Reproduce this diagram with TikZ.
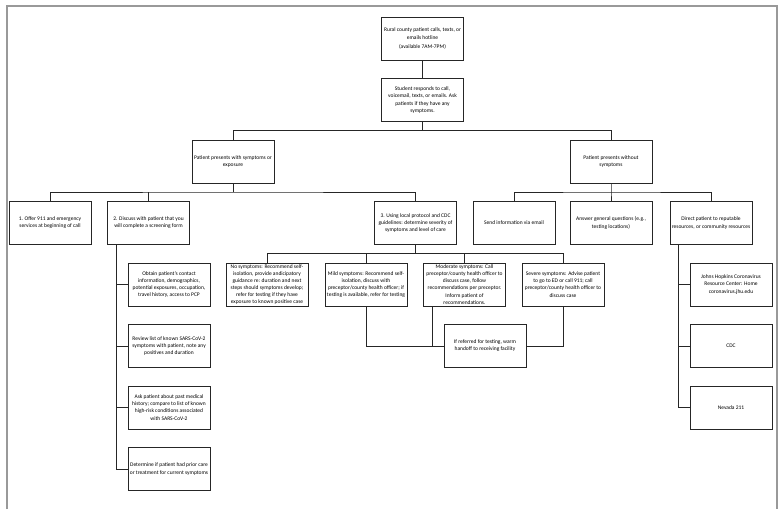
\documentclass[tikz,border=0pt]{standalone}
\usepackage{fontspec}
\setmainfont{Carlito}

\begin{document}
\begin{tikzpicture}[x=1pt,y=-1pt,
  box/.style={draw=black!85,line width=0.9pt,minimum width=82pt,minimum height=43pt,inner sep=0.5pt,align=center,font=\fontsize{5.5}{7.1}\selectfont},
  conn/.style={draw=black!85,line width=0.9pt},
  pageframe/.style={draw=black!40,line width=1.6pt}]
\useasboundingbox(0,0)rectangle(784,509);
\draw[pageframe](7,509)--(7,6)--(777,6)--(777,509);
\node[box](call)at(422.5,38.5){Rural county patient calls, texts, or\\emails hotline\\[2pt](available 7AM-7PM)};
\node[box](student)at(422.5,100){Student responds to call,\\voicemail, texts, or emails. Ask\\patients if they have any\\symptoms.};
\node[box](withsym)at(233,161.5){Patient presents with symptoms or\\exposure};
\node[box](nosymp)at(611,161.5){Patient presents without\\symptoms};
\node[box](offer)at(50,223){1. Offer 911 and emergency\\services at beginning of call};
\node[box](discuss)at(148.5,223){2. Discuss with patient that you\\will complete a screening form};
\node[box](protocol)at(415.5,223){3. Using local protocol and CDC\\guidelines: determine severity of\\symptoms and level of care};
\node[box](email)at(514,223){Send information via email};
\node[box](answer)at(611,223){Answer general questions (e.g.,\\testing locations)};
\node[box](direct)at(711,223){Direct patient to reputable\\resources, or community resources};
\node[box](obtain)at(169,284.5){Obtain patient’s contact\\information, demographics,\\potential exposures, occupation,\\travel history, access to PCP};
\node[box](review)at(169,346){Review list of known SARS-CoV-2\\symptoms with patient, note any\\positives and duration};
\node[box](history)at(169,407.5){Ask patient about past medical\\history; compare to list of known\\high-risk conditions associated\\with SARS-CoV-2};
\node[box](prior)at(169,469){Determine if patient had prior care\\or treatment for current symptoms};
\node[box](none)at(267,284.5){No symptoms: Recommend self-\\isolation, provide andicipatory\\guidance re: duration and next\\steps should symptoms develop;\\refer for testing if they have\\exposure to known positive case};
\node[box](mild)at(366,284.5){Mild symptoms: Recommend self-\\isolation, discuss with\\preceptor/county health officer; if\\testing is available, refer for testing};
\node[box](moderate)at(464.5,284.5){Moderate symptoms: Call\\preceptor/county health officer to\\discuss case, follow\\recommendations per preceptor.\\Inform patient of\\recommendations.};
\node[box](severe)at(563,284.5){Severe symptoms: Advise patient\\to go to ED or call 911; call\\preceptor/county health officer to\\discuss case};
\node[box](handoff)at(485,346){If referred for testing, warm\\handoff to receiving facility};
\node[box](jhu)at(731,284.5){Johns Hopkins Coronavirus\\Resource Center: Home\\coronavirus.jhu.edu};
\node[box](cdc)at(731,346){CDC};
\node[box](nevada)at(731,407.5){Nevada 211};
\coordinate(j1)at(422.5,130.5);
\coordinate(j2)at(233,192);
\coordinate(j3)at(611,192);
\coordinate(j4)at(415.5,253.5);
\coordinate(tl)at(116,0);\coordinate(tr)at(678,0);\coordinate(tm)at(432,0);
\draw[conn](call)--(student);
\draw[conn](student)--(j1);\draw[conn](withsym.north)|-(j1)-|(nosymp.north);
\draw[conn](withsym)--(j2);\draw[conn](offer.north)|-(j2)-|(protocol.north);
\draw[conn](discuss.north)--(discuss.north|-j2);
\draw[conn](nosymp)--(j3)--(answer);\draw[conn](email.north)|-(j3)-|(direct.north);
\draw[conn](protocol)--(j4);\draw[conn](none.north)|-(j4)-|(severe.north);
\draw[conn](mild.north)--(mild.north|-j4);\draw[conn](moderate.north)--(moderate.north|-j4);
\draw[conn](discuss.south-|tl)|-(prior.west);
\foreach \n in {obtain,review,history}\draw[conn](\n.west)--(\n.west-|tl);
\draw[conn](direct.south-|tr)|-(nevada.west);
\foreach \n in {jhu,cdc}\draw[conn](\n.west)--(\n.west-|tr);
\draw[conn](mild)|-(handoff.west);
\draw[conn](moderate.south-|tm)--(tm|-handoff.west);
\draw[conn](severe)|-(handoff.east);
\end{tikzpicture}
\end{document}
